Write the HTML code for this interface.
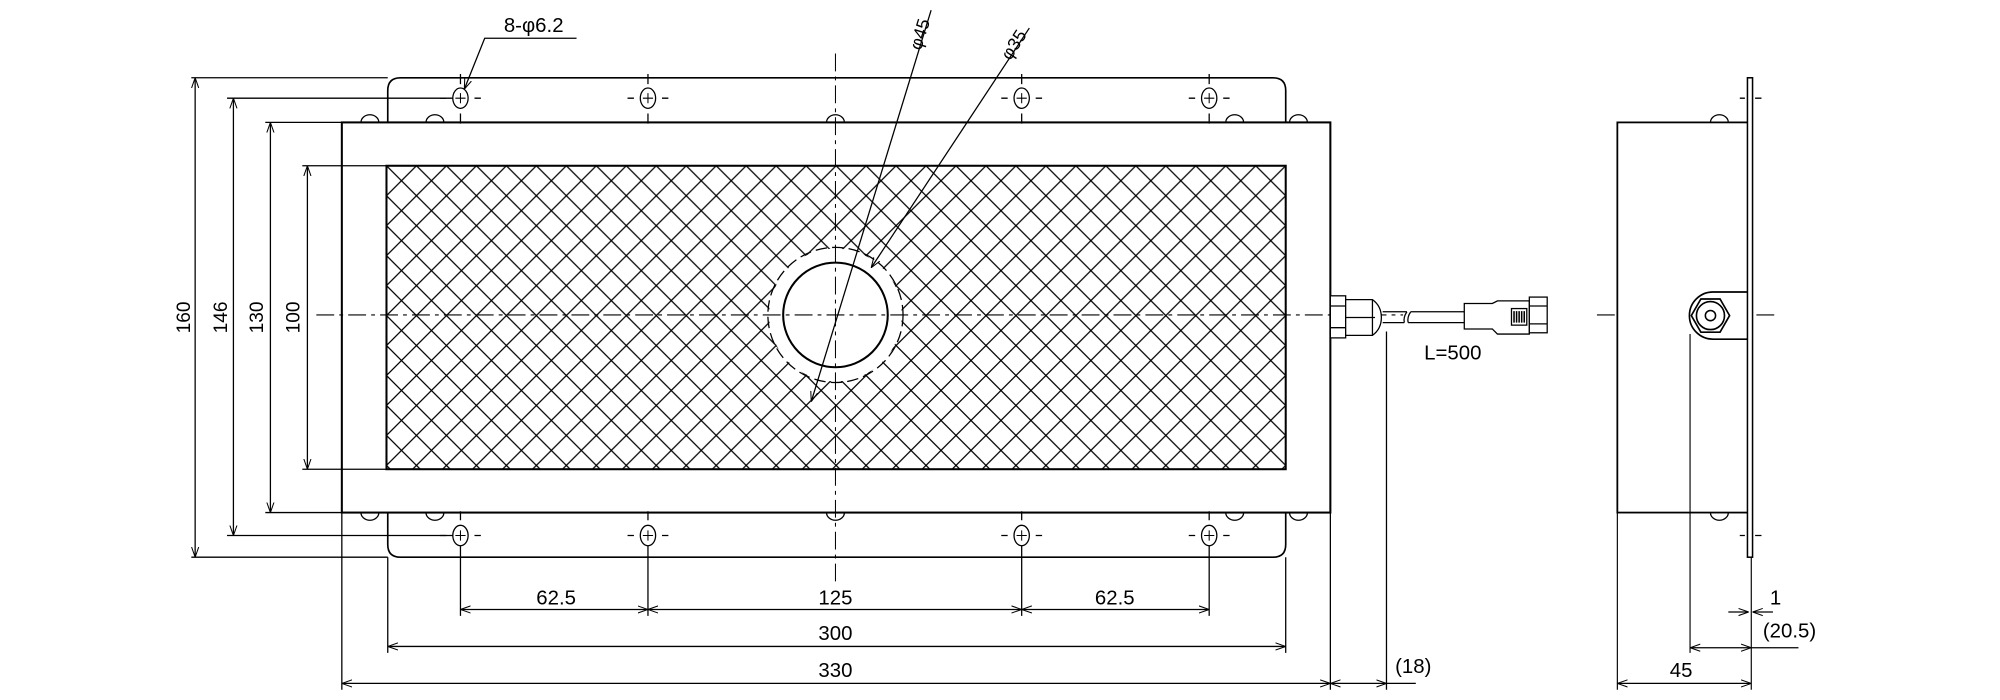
<!DOCTYPE html>
<html><head><meta charset="utf-8"><style>
html,body{margin:0;padding:0;background:#fff;}
svg{display:block;}
text{font-family:"Liberation Sans Narrow","Liberation Sans",sans-serif;fill:#000;}
</style></head><body>
<svg width="2000" height="700" viewBox="0 0 1568 549" preserveAspectRatio="none" xmlns="http://www.w3.org/2000/svg">
<defs>
<pattern id="h" x="303" y="130" width="23.5" height="23.5" patternUnits="userSpaceOnUse">
<path d="M0,0L23.5,23.5M23.5,0L0,23.5M-2,21.5L2,25.5M21.5,-2L25.5,2" stroke="#000" stroke-width="1"/>
</pattern>
<marker id="a" viewBox="0 0 10 10" refX="10" refY="5" markerWidth="8" markerHeight="8" orient="auto-start-reverse" markerUnits="userSpaceOnUse"><path d="M0,1.5L10,5L0,8.5" fill="none" stroke="#000" stroke-width="1"/></marker>
</defs>
<g fill="none" stroke="#000" stroke-width="1">
<path d="M314,61H998Q1008,61 1008,71V427Q1008,437 998,437H314Q304,437 304,427V71Q304,61 314,61Z" stroke-width="1.3"/>
<g stroke-width="1">
<path d="M283,96A7,6 0 0 1 297,96M334,96A7,6 0 0 1 348,96M648,96A7,6 0 0 1 662,96M961,96A7,6 0 0 1 975,96M1011,96A7,6 0 0 1 1025,96"/>
<path d="M283,402A7,6 0 0 0 297,402M334,402A7,6 0 0 0 348,402M648,402A7,6 0 0 0 662,402M961,402A7,6 0 0 0 975,402M1011,402A7,6 0 0 0 1025,402"/>
<path d="M1341,96A7,6 0 0 1 1355,96M1341,402A7,6 0 0 0 1355,402"/>
</g>
<rect x="268" y="96" width="775" height="306" fill="#fff" stroke-width="1.6"/>
<rect x="303" y="130" width="705" height="238" fill="url(#h)" stroke-width="1.6"/>
<circle cx="655" cy="247" r="52" fill="#fff" stroke="none"/>
<circle cx="655" cy="247" r="53" stroke-dasharray="9,4"/>
<circle cx="655" cy="247" r="41" stroke-width="1.6"/>
<g>
<ellipse cx="361" cy="77" rx="6" ry="8"/><ellipse cx="508" cy="77" rx="6" ry="8"/><ellipse cx="801" cy="77" rx="6" ry="8"/><ellipse cx="948" cy="77" rx="6" ry="8"/>
<ellipse cx="361" cy="420" rx="6" ry="8"/><ellipse cx="508" cy="420" rx="6" ry="8"/><ellipse cx="801" cy="420" rx="6" ry="8"/><ellipse cx="948" cy="420" rx="6" ry="8"/>
<path d="M357,77h8M361,73v8M504,77h8M508,73v8M797,77h8M801,73v8M944,77h8M948,73v8M357,420h8M361,416v8M504,420h8M508,416v8M797,420h8M801,416v8M944,420h8M948,416v8" stroke-width="0.8"/>
<path d="M345,77h5M372,77h5M361,58v8M361,89v8M492,77h5M519,77h5M508,58v8M508,89v8M785,77h5M812,77h5M801,58v8M801,89v8M932,77h5M959,77h5M948,58v8M948,89v8"/>
<path d="M345,420h5M372,420h5M361,401v7M492,420h5M519,420h5M508,401v7M785,420h5M812,420h5M801,401v7M932,420h5M959,420h5M948,401v7"/>
</g>
<path d="M655,42V460" stroke-dasharray="14,4,3,4" stroke-width="0.8"/>
<path d="M248,247H1100" stroke-dasharray="14,4,3,4" stroke-width="0.8"/>
<path d="M1252,247H1392" stroke-dasharray="14,4,3,4" stroke-width="0.8"/>
<path d="M730,8L636,315" marker-end="url(#a)"/>
<path d="M807,22L683,210" marker-end="url(#a)"/>
<path d="M452,30H380L364,70" marker-end="url(#a)"/>
<path d="M150,61H304M150,437H304M178,77H355M178,420H355M208,96H268M208,402H268M237,130H303M237,368H303"/>
<path d="M153,61V437" marker-start="url(#a)" marker-end="url(#a)"/>
<path d="M183,77V420" marker-start="url(#a)" marker-end="url(#a)"/>
<path d="M212,96V402" marker-start="url(#a)" marker-end="url(#a)"/>
<path d="M241,130V368" marker-start="url(#a)" marker-end="url(#a)"/>
<path d="M361,428V483M508,428V483M801,428V483M948,428V483M304,437V512M1008,437V512M268,402V541M1043,402V541M1087,260V541"/>
<path d="M361,478H508" marker-start="url(#a)" marker-end="url(#a)"/>
<path d="M508,478H801" marker-start="url(#a)" marker-end="url(#a)"/>
<path d="M801,478H948" marker-start="url(#a)" marker-end="url(#a)"/>
<path d="M304,507H1008" marker-start="url(#a)" marker-end="url(#a)"/>
<path d="M268,536H1043" marker-start="url(#a)" marker-end="url(#a)"/>
<path d="M1043,536H1087" marker-start="url(#a)" marker-end="url(#a)"/>
<path d="M1087,536H1110"/>
<rect x="1043" y="232" width="12" height="33" fill="#fff"/>
<path d="M1043,240H1055M1043,257H1055"/>
<path d="M1055,235H1076Q1083,240 1083,249Q1083,258 1076,263H1055Z" fill="#fff"/>
<path d="M1055,249H1078M1076,235V263"/>
<path d="M1084,244.5H1103M1084,253H1101M1106,244.5H1148M1104,253H1148"/>
<path d="M1103,244.5Q1100,249 1101,253M1106,244.5Q1103,249 1104,253"/>
<path d="M1148,238H1170L1174,236H1199V262H1174L1170,258H1148Z" fill="#fff"/>
<rect x="1199" y="233" width="14" height="28" fill="#fff"/>
<path d="M1199,240H1213M1199,254H1213"/>
<rect x="1185" y="242" width="12" height="13" fill="#fff"/>
<path d="M1187,244V253M1189,244V253M1191,244V253M1193,244V253M1195,244V253" stroke-width="1.2"/>
<rect x="1268" y="96" width="104" height="306" fill="#fff" stroke-width="1.4"/>
<path d="M1372,229H1343A18.5,18.5 0 0 0 1343,266H1372" fill="#fff" stroke-width="1.3"/>
<rect x="1370" y="61" width="4" height="376" fill="#fff" stroke-width="1.2"/>
<polygon points="1326,247.5 1333.5,234.5 1348.5,234.5 1356,247.5 1348.5,260.5 1333.5,260.5" fill="#fff" stroke-width="1.3"/>
<circle cx="1341" cy="247.5" r="11" stroke-width="1.3"/>
<circle cx="1341" cy="247.5" r="4" stroke-width="1.2"/>
<path d="M1325,262V512M1373,437V541M1268,402V541" stroke-width="0.9"/>
<path d="M1364,77h4M1376,77h5M1364,420h4M1376,420h5"/>
<path d="M1355,480H1371" marker-end="url(#a)"/>
<path d="M1390,480H1374" marker-end="url(#a)"/>
<path d="M1325,508H1373" marker-start="url(#a)" marker-end="url(#a)"/>
<path d="M1373,508H1410"/>
<path d="M1268,536H1373" marker-start="url(#a)" marker-end="url(#a)"/>
</g>
<g font-size="16">
<text x="395" y="25">8-φ6.2</text>
<text x="722" y="40" transform="rotate(-73 722 40)" font-size="14">φ45</text>
<text x="792" y="48" transform="rotate(-57 792 48)" font-size="14">φ35</text>
<text transform="translate(149,249) rotate(-90)" text-anchor="middle" font-size="15">160</text>
<text transform="translate(178,249) rotate(-90)" text-anchor="middle" font-size="15">146</text>
<text transform="translate(206,249) rotate(-90)" text-anchor="middle" font-size="15">130</text>
<text transform="translate(235,249) rotate(-90)" text-anchor="middle" font-size="15">100</text>
<text x="436" y="474" text-anchor="middle">62.5</text>
<text x="655" y="474" text-anchor="middle">125</text>
<text x="874" y="474" text-anchor="middle">62.5</text>
<text x="655" y="502" text-anchor="middle">300</text>
<text x="655" y="531" text-anchor="middle">330</text>
<text x="1108" y="528" text-anchor="middle">(18)</text>
<text x="1139" y="282" text-anchor="middle">L=500</text>
<text x="1392" y="474" text-anchor="middle">1</text>
<text x="1403" y="500" text-anchor="middle">(20.5)</text>
<text x="1318" y="531" text-anchor="middle">45</text>
</g>
</svg>
</body></html>
